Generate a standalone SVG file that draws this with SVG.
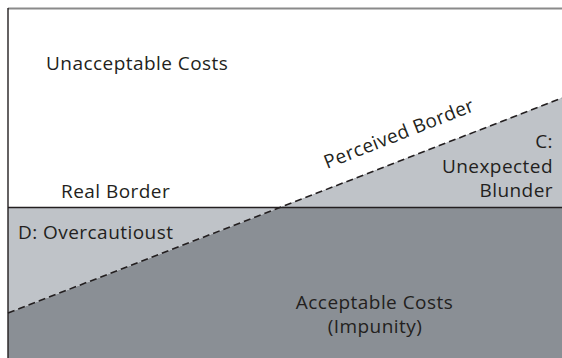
<svg xmlns="http://www.w3.org/2000/svg" width="562" height="358" viewBox="0 0 562 358">
<style>
text{font-family:"Open Sans","Liberation Sans",sans-serif;font-size:19px;letter-spacing:0.45px;fill:#231f20}
.r{text-anchor:end}
.m{text-anchor:middle}
</style>
<rect x="0" y="0" width="562" height="358" fill="#ffffff"/>
<g id="regions">
<polygon id="acceptable" points="8,313 562,98 562,358 8,358" fill="#8a8f95"/>
<polygon id="unexpected-blunder" points="281.5,207 562,98 562,207" fill="#bfc3c8"/>
<polygon id="overcautious" points="8,207 281.5,207 8,313" fill="#bfc3c8"/>
</g>
<g id="connectors">
<line x1="8" y1="207.5" x2="562" y2="207.5" stroke="#231f20" stroke-width="1.3"/>
<line x1="8" y1="313" x2="562" y2="98" stroke="#231f20" stroke-width="1.6" stroke-dasharray="7,4"/>
<line x1="8" y1="8.5" x2="562" y2="8.5" stroke="#8a8a8a" stroke-width="1.8"/>
<line x1="8" y1="8" x2="8" y2="358" stroke="#231f20" stroke-width="1.4"/>
</g>
<g id="labels">
<text x="46" y="70">Unacceptable Costs</text>
<text x="61" y="198">Real Border</text>
<text x="18" y="239">D: Overcautioust</text>
<text class="r" x="553" y="148">C:</text>
<text class="r" x="553" y="172.5">Unexpected</text>
<text class="r" x="553" y="197">Blunder</text>
<text class="m" x="374.5" y="309">Acceptable Costs</text>
<text class="m" x="375" y="333">(Impunity)</text>
<text transform="translate(327,169) rotate(-21.5)">Perceived Border</text>
</g>
</svg>
